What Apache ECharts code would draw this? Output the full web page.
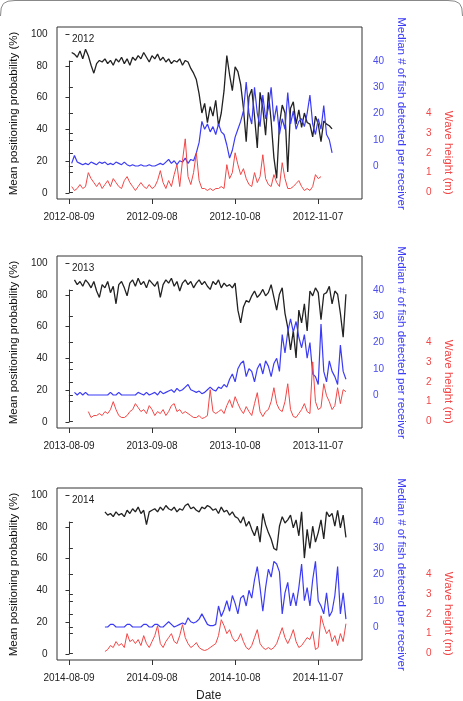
<!DOCTYPE html>
<html>
<head>
<meta charset="utf-8">
<script src="https://cdn.jsdelivr.net/npm/echarts@6/dist/echarts.min.js"></script>
<style>
  html, body { margin: 0; padding: 0; background: #fff; }
  #chart { width: 463px; height: 701px; }
</style>
</head>
<body>
<div id="chart"></div>
<script>
// 年份 / x 轴刻度（距 08-09 的天数，每 30 天一个）
var years = ['2012', '2013', '2014'];
var xTickLabels = [
  ['2012-08-09', '2012-09-08', '2012-10-08', '2012-11-07'],
  ['2013-08-09', '2013-09-08', '2013-10-08', '2013-11-07'],
  ['2014-08-09', '2014-09-08', '2014-10-08', '2014-11-07']
];

// 每条序列第一个点对应的天数
var probStart = [1, 2, 13];
var fishStart = [1, 2, 13];
var waveStart = [1, 7, 13];

// Mean positioning probability (%)
var prob2012 = [
  88, 87, 85, 89, 84, 90, 86, 80, 75, 81,
  83, 82, 84, 81, 83, 80, 84, 82, 85, 81,
  84, 80, 85, 83, 86, 84, 88, 85, 82, 86,
  84, 87, 83, 85, 82, 84, 81, 83, 82, 84,
  80, 83, 82, 78, 75,
  71, 62, 50, 56, 44, 54, 48, 58, 42, 50, 64,
  86, 74, 64, 79, 76, 68, 53, 32, 60, 65,
  48, 28, 63, 53, 36, 63, 45, 22, 9, 43,
  55, 50, 13, 53, 57, 43, 52, 41, 50, 44,
  43, 35, 48, 43, 32, 45, 43, 42, 40
];
var prob2013 = [
  89, 86, 88, 85, 89, 87, 84, 88, 82, 78,
  86, 84, 88, 81, 85, 74, 86, 88, 84, 79,
  87, 89, 85, 90, 86, 88, 84, 89, 87, 85,
  88, 78, 86, 89, 87, 90, 85, 88, 82, 87,
  89, 86, 88, 84, 87, 89, 86, 88, 85, 83,
  88, 86, 89, 84, 87, 85, 86, 84, 87, 70,
  62, 72, 76, 75, 79, 82, 78, 80, 83, 79,
  81, 86, 78, 70, 80, 84, 68, 59, 45, 57,
  40, 70, 62, 74, 57, 82, 79, 84, 81, 64,
  80, 81, 85, 74, 82, 80, 68, 53, 80
];
var prob2014 = [
  89, 87, 88, 86, 89, 87, 88, 86, 90, 88,
  91, 89, 92, 88, 90, 81, 89, 90, 91, 89,
  92, 90, 93, 91, 90, 92, 89, 91, 90, 93,
  94, 91, 92, 90, 89, 92, 91, 93, 92, 90,
  91, 88, 92, 89, 90, 87, 89, 86, 85, 82,
  86, 80, 83, 78, 74, 80, 70, 88, 81, 76,
  72, 66, 65, 80, 86, 82, 84, 87, 79, 84,
  74, 89, 60, 78, 66, 80, 70, 76, 84, 72,
  89, 86, 88, 80, 90, 79, 87, 73
];

// Median # of fish detected per receiver
var fish2012 = [
  1, 4, 1.5, 1, 0.5, 1, 0.5, 1.5, 1, 0.5,
  1.5, 1, 1.5, 0.5, 1, 0.5, 1.5, 1, 0.5, 1.5,
  0.5, 0, 0.5, 0, 0, 0.5, 0, 0, 0.5, 0,
  0, 0.5, 1, 0.5, 1.5, 2.5, 1, 2, 0.5, 2,
  1.5, 3, 1, 2.5, 2,
  5, 9, 17, 14, 16, 13, 15, 12, 16, 13, 12,
  8, 3, 6, 11, 14, 17, 21, 32, 20, 16,
  30, 20, 15, 27, 18, 22, 30, 17, 23, 12,
  18, 14, 28, 16, 21, 14, 17, 18, 15, 20,
  27, 16, 12, 18, 14, 23, 12, 10, 5
];
var fish2013 = [
  1, 0, 1, 0, 1, 0, 0, 0, 0, 0,
  0, 0, 0, 1, 0, 0, 1, 0, 0, 0,
  0, 0, 0, 1, 0.5, 0, 1, 0, 0.5, 1,
  0, 1.5, 0.5, 1, 1.5, 2, 1, 2.5, 1.5, 2,
  3, 4, 2, 1.5, 1, 1.5, 0.5, 1, 2, 3,
  2, 1.5, 3, 2.5, 4, 3, 6, 8, 5, 10,
  12, 13, 7, 10, 9, 5, 10, 12, 8, 13,
  11, 7, 12, 14, 9, 23, 16, 24, 29, 24,
  28, 22, 18, 23, 14, 20, 8, 7, 4, 27,
  9, 5, 13, 9, 7, 4, 19, 9, 6
];
var fish2014 = [
  0, 0, 1, 1, 0, 0, 0, 0, 1, 1,
  0, 0, 0, 0, 1, 1, 0, 0, 1, 1,
  0, 0, 1, 2, 1, 0, 0.5, 1, 1.5, 1,
  3.5, 2, 1.5, 2, 3, 5, 3, 1, 0.5, 0.5,
  1, 8, 4, 6.5, 10, 6, 12, 9, 5, 11,
  12, 8, 14, 11, 18, 23, 15, 6, 15, 22,
  19, 25, 24, 21, 5, 13, 17, 8, 13, 8,
  15, 24, 10, 15, 8, 18, 25, 10, 8, 5,
  13, 4, 6, 12, 23, 5, 13, 3
];

// Wave height (m)
var wave2012 = [
  0.3, 0.1, 0.2, 0.4, 0.2, 0.3, 1.0, 0.7, 0.5, 0.3,
  0.5, 0.2, 0.4, 0.6, 0.3, 0.7, 0.5, 0.3, 0.2, 0.6,
  0.8, 0.5, 0.3, 0.1, 0.3, 0.5, 0.3, 0.2, 0.4, 0.2,
  0.3, 0.6, 1.1, 0.5, 0.2, 0.6, 0.3, 0.9, 1.4, 0.3,
  1.6, 2.7, 0.8, 0.4, 1.0, 2.0, 0.6, 0.2, 0.2, 0.1,
  0.2, 0.1, 0.2, 0.2, 0.3, 0.2, 1.4, 0.7, 1.0, 2.0,
  1.4, 0.9, 1.2, 0.7, 0.4, 0.3, 1.0, 0.5, 0.8, 1.9,
  0.7, 0.4, 0.3, 0.9, 0.5, 0.3, 1.5, 0.7, 0.2, 0.2,
  0.3, 0.45, 0.6, 0.3, 0.1, 0.2, 0.1, 0.3, 0.9, 0.7,
  0.8
];
var wave2013 = [
  0.5, 0.2, 0.3, 0.3, 0.4, 0.3, 0.5, 0.4, 0.6, 1.0,
  0.6, 0.3, 0.2, 0.2, 0.3, 0.5, 0.6, 0.9, 0.7, 0.5,
  0.6, 0.4, 0.8, 0.6, 0.3, 0.5, 0.4, 0.6, 0.3, 0.5,
  0.8, 0.9, 0.5, 0.6, 0.4, 0.5, 0.4, 0.3, 0.2, 0.2,
  0.3, 0.15, 0.2, 0.3, 1.6, 0.5, 0.4, 0.5, 0.6, 0.4,
  0.8, 1.1, 0.7, 1.25, 0.9, 0.6, 0.4, 0.75, 0.5, 0.3,
  0.9, 1.45, 0.5, 0.25, 0.5, 0.6, 1.0, 1.7, 0.9, 0.6,
  0.5, 1.0, 1.9, 0.6, 0.25, 0.2, 0.4, 0.6, 0.9, 0.5,
  0.4, 3.0, 1.0, 0.6, 0.7, 1.9, 1.3, 1.0, 0.6, 0.8,
  1.7, 0.9, 1.6, 1.5
];
var wave2014 = [
  0.1, 0.2, 0.4, 0.3, 0.6, 0.4, 0.5, 0.3, 1.0, 0.6,
  0.7, 0.5, 0.7, 0.4, 0.9, 0.5, 0.3, 0.6, 0.9, 1.4,
  0.5, 0.3, 0.6, 0.8, 1.0, 0.6, 0.5, 0.9, 1.45, 0.8,
  0.5, 0.3, 0.4, 0.55, 0.3, 0.2, 0.15, 0.2, 0.3, 0.4,
  0.5, 0.9, 1.7, 1.4, 1.0, 1.2, 0.8, 0.6, 0.7, 1.0,
  0.6, 0.3, 0.2, 0.4, 0.8, 1.2, 0.5, 0.3, 0.2, 0.3,
  0.2, 0.3, 0.5, 0.9, 1.3, 0.8, 0.5, 0.8, 1.2, 0.6,
  0.3, 0.4, 0.6, 0.8, 0.7, 1.1, 0.2, 0.3, 1.9, 1.4,
  1.0, 1.2, 0.6, 0.9, 0.4, 1.0, 0.6, 1.5
];

var probData = [prob2012, prob2013, prob2014];
var fishData = [fish2012, fish2013, fish2014];
var waveData = [wave2012, wave2013, wave2014];

(function () {
  var FONT = "'Liberation Sans', Arial, Helvetica, sans-serif";
  var BLACK = '#222', BLUE = '#3b3bf5', RED = '#f24646';
  var panelTop = [27, 256, 488];
  // 图框（x: -4.3 ~ 105.8 天）
  var boxLeft = 57, boxWidth = 305, boxHeight = 172;
  var xMin = -4.3, xMax = 105.8;
  // x 刻度区：第 0 天 ~ 第 90 天
  var tickLeft = 69, tickWidth = 249;

  function pts(start, vals) {
    return vals.map(function (v, i) { return [start + i, v]; });
  }
  function hiddenX(g) { return { gridIndex: g, type: 'value', min: xMin, max: xMax, show: false }; }
  function hiddenY(g) { return { gridIndex: g, type: 'value', min: 0, max: 1, show: false }; }

  var grid = [], xAxis = [], yAxis = [], series = [], graphic = [];

  for (var p = 0; p < 3; p++) {
    var t = panelTop[p];
    var g = 5 * p;
    // 图框(黑线) / x 刻度 / y 刻度(0-100) / 蓝(0-40) / 红(0-4)
    grid.push({ left: boxLeft, width: boxWidth, top: t, height: boxHeight,
      show: true, borderColor: '#333', borderWidth: 1 });
    grid.push({ left: tickLeft, width: tickWidth, top: t, height: boxHeight });
    grid.push({ left: boxLeft, width: boxWidth, top: t + 7, height: 159 });
    grid.push({ left: boxLeft, width: boxWidth, top: t + 34, height: 105 });
    grid.push({ left: boxLeft, width: boxWidth, top: t + 86, height: 79.5 });

    xAxis.push(hiddenX(g));
    (function (labels) {
      xAxis.push({
        gridIndex: g + 1, type: 'value', min: 0, max: 90, interval: 30,
        axisLine: { show: false },
        axisTick: { show: true, length: 5, lineStyle: { color: '#333' } },
        axisLabel: { margin: 13, fontSize: 10, color: BLACK, fontFamily: FONT,
          formatter: function (v) { return labels[Math.round(v / 30)]; } },
        splitLine: { show: false }
      });
    })(xTickLabels[p]);
    xAxis.push(hiddenX(g + 2));
    xAxis.push(hiddenX(g + 3));
    xAxis.push(hiddenX(g + 4));

    yAxis.push({ gridIndex: g, type: 'value', min: -4, max: 104, show: false });
    yAxis.push(hiddenY(g + 1));
    yAxis.push({
      gridIndex: g + 2, type: 'value', position: 'left', min: 0, max: 100, interval: 20,
      axisLine: { show: false },
      axisTick: { show: true, length: 4, lineStyle: { color: '#333' } },
      axisLabel: { margin: 10, fontSize: 10, color: BLACK, fontFamily: FONT },
      splitLine: { show: false },
      name: 'Mean positioning probability (%)', nameLocation: 'middle', nameGap: 32, nameRotate: 90,
      nameTextStyle: { fontSize: 11.5, color: '#111', fontFamily: FONT }
    });
    yAxis.push({
      gridIndex: g + 3, type: 'value', position: 'right', offset: 4, min: 0, max: 40, interval: 10,
      axisLine: { show: true, lineStyle: { color: '#333' } },
      axisTick: { show: true, length: 4, lineStyle: { color: '#333' } },
      axisLabel: { margin: 7, fontSize: 10, color: '#4a4af0', fontFamily: FONT },
      splitLine: { show: false },
      name: 'Median # of fish detected per receiver', nameLocation: 'middle', nameGap: 26, nameRotate: -90,
      nameTextStyle: { fontSize: 11.5, color: BLUE, fontFamily: FONT }
    });
    yAxis.push({
      gridIndex: g + 4, type: 'value', position: 'right', offset: 55, min: 0, max: 4, interval: 1,
      axisLine: { show: true, lineStyle: { color: '#333' } },
      axisTick: { show: true, length: 4, lineStyle: { color: '#333' } },
      axisLabel: { margin: 9, fontSize: 10, color: RED, fontFamily: FONT },
      splitLine: { show: false },
      name: 'Wave height (m)', nameLocation: 'middle', nameGap: 21, nameRotate: -90,
      nameTextStyle: { fontSize: 11.5, color: RED, fontFamily: FONT }
    });

    series.push({ type: 'line', xAxisIndex: g, yAxisIndex: g, data: pts(probStart[p], probData[p]),
      showSymbol: false, lineStyle: { color: BLACK, width: 1.3 }, z: 2 });
    series.push({ type: 'line', xAxisIndex: g + 3, yAxisIndex: g + 3, data: pts(fishStart[p], fishData[p]),
      showSymbol: false, clip: false, lineStyle: { color: BLUE, width: 1.2 }, z: 3 });
    series.push({ type: 'line', xAxisIndex: g + 4, yAxisIndex: g + 4, data: pts(waveStart[p], waveData[p]),
      showSymbol: false, clip: false, lineStyle: { color: RED, width: 1 }, z: 4 });

    graphic.push({ type: 'text', left: 72, top: t + 7,
      style: { text: years[p], fontSize: 10, fill: BLACK, fontFamily: FONT } });
  }

  graphic.push({ type: 'text', left: 196, top: 690,
    style: { text: 'Date', fontSize: 12, fill: BLACK, fontFamily: FONT } });

  // 顶部圆角边框
  graphic.push({ type: 'polyline', z: -1,
    shape: { points: [[0.5, 16], [1.2, 8], [3.5, 3.5], [8, 1.2], [15, 0.5], [448, 0.5],
      [455, 1.2], [459.5, 3.5], [461.8, 8], [462.5, 16]] },
    style: { fill: 'none', stroke: '#888', lineWidth: 1 } });

  var myChart = echarts.init(document.getElementById('chart'));
  myChart.setOption({ animation: false, grid: grid, xAxis: xAxis, yAxis: yAxis, series: series, graphic: graphic });
})();
</script>
</body>
</html>
